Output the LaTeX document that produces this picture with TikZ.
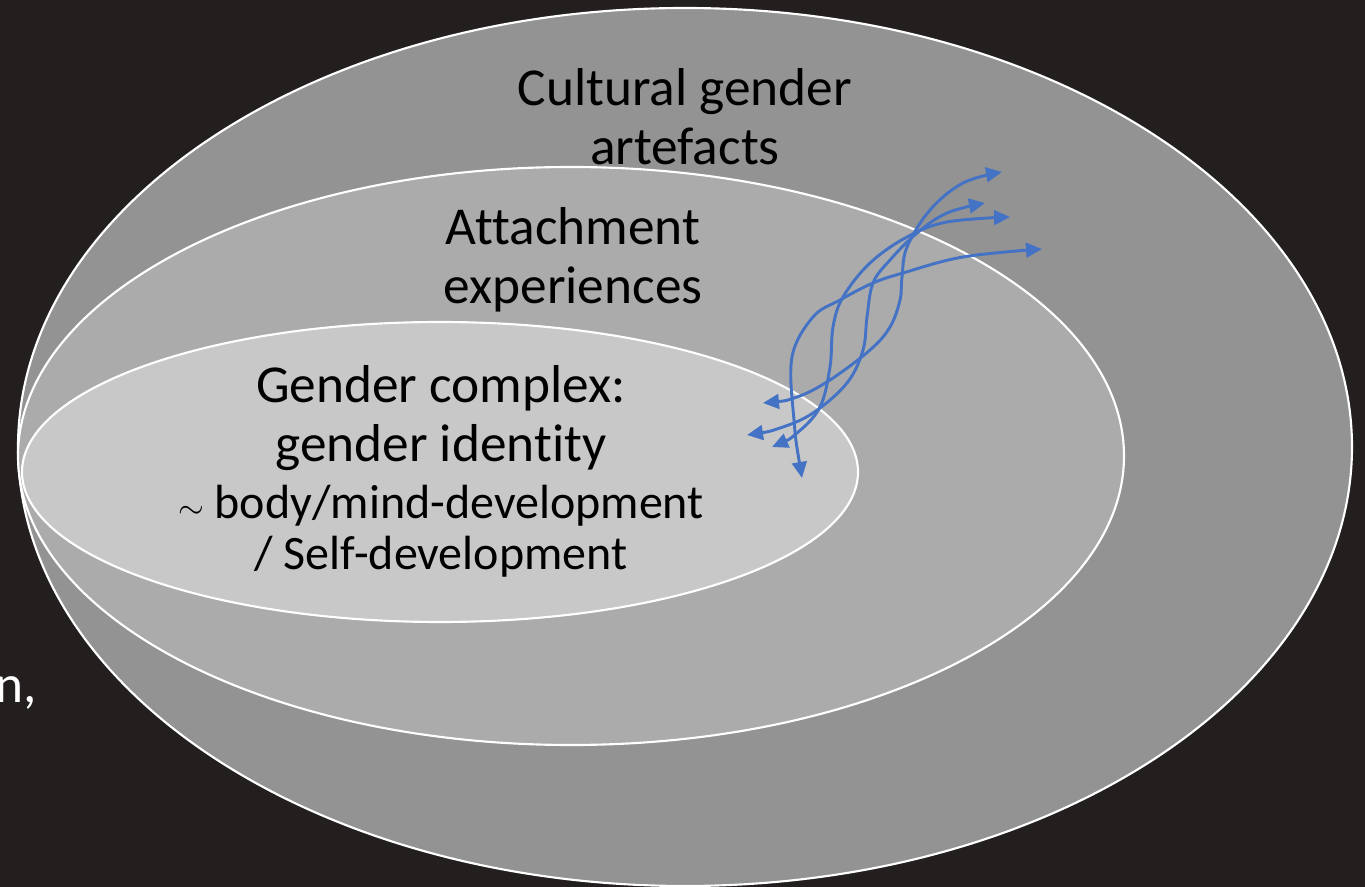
\documentclass[tikz,border=0pt]{standalone}
\usepackage{fontspec}
\setmainfont[Ligatures={NoCommon}]{Carlito}
\usetikzlibrary{arrows.meta}
\definecolor{bgdark}{HTML}{231F1E}
\definecolor{outergray}{HTML}{939393}
\definecolor{midgray}{HTML}{ABABAB}
\definecolor{innergray}{HTML}{C8C8C8}
\definecolor{arrowblue}{HTML}{4472C4}
\tikzset{
  ring/.style={draw=white, line width=1.6pt},
  bigtext/.style={align=center, font=\fontsize{40}{44}\selectfont, text=black},
  smalltext/.style={align=center, font=\fontsize{36}{38.5}\selectfont, text=black},
  link/.style={draw=arrowblue, line width=2.2pt, {Triangle[length=12pt,width=11pt]}-{Triangle[length=12pt,width=11pt]}},
}
\begin{document}
\begin{tikzpicture}[x=0.75pt,y=-0.75pt]
\useasboundingbox (0,0) rectangle (1365,887);
\fill[bgdark] (0,0) rectangle (1365,887);
\node[anchor=base east, font=\fontsize{40}{44}\selectfont, text=white] (edge) at (42,703) {n,};
\draw[ring, fill=outergray] (685,447) ellipse [x radius=667, y radius=439];
\draw[ring, fill=midgray] (571,456) ellipse [x radius=553, y radius=289];
\draw[ring, fill=innergray] (440,472) ellipse [x radius=418, y radius=150];
\node[bigtext] (cult) at (685,117) {Cultural gender\\artefacts};
\node[bigtext] (att) at (573,260) {Attachment\\experiences};
\node[bigtext] (gc) at (441,418) {Gender complex:\\gender identity};
\node[smalltext] (body) at (441,531) {$\sim$ body/mind-development\\/ Self-development};
\draw[link] plot[smooth, tension=0.6] coordinates {(763,403) (797,397) (830,380) (870,350) (890,327) (900,300) (902,277) (907,247) (930,210) (963,183) (1002,172)};
\draw[link] plot[smooth, tension=0.6] coordinates {(747,435) (780,428) (813,413) (847,383) (863,350) (867,317) (873,283) (890,260) (917,233) (947,213) (985,203)};
\draw[link] plot[smooth, tension=0.6] coordinates {(772,447) (797,433) (820,407) (830,367) (833,327) (843,297) (870,263) (907,237) (947,222) (1010,217)};
\draw[link] plot[smooth, tension=0.6] coordinates {(802,478) (794,420) (792,357) (813,317) (840,300) (873,283) (903,273) (963,257) (1042,249)};
\end{tikzpicture}
\end{document}
